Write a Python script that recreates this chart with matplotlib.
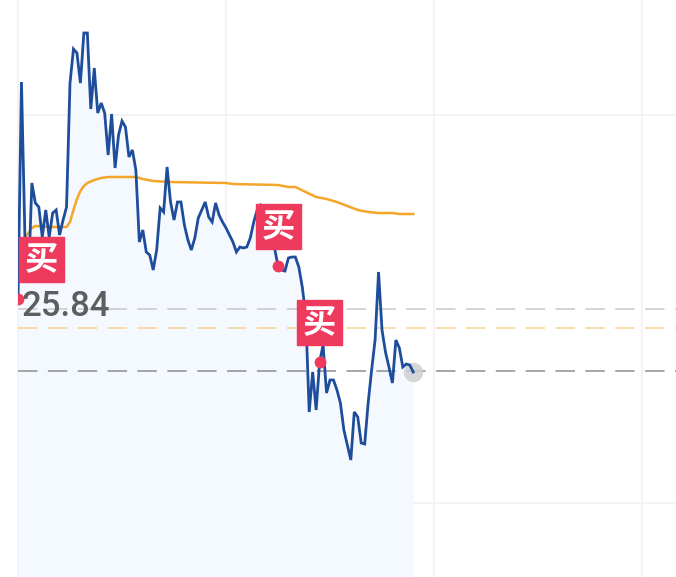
import matplotlib.pyplot as plt
from matplotlib import transforms
from matplotlib.patches import Rectangle

plt.rcParams['font.family'] = ['Noto Sans CJK SC', 'DejaVu Sans']
plt.rcParams['lines.scale_dashes'] = False

# intraday minute index (0 = 09:30) and last price
minutes = list(range(115))
price = [25.94, 28.11, 26.56, 26.10, 27.10, 26.90, 26.86, 26.56, 26.83, 26.56,
         26.80, 26.83, 26.58, 26.73, 26.86, 28.10, 28.44, 28.40, 28.10, 28.60,
         28.60, 27.84, 28.25, 27.80, 27.90, 27.80, 27.38, 27.79, 27.25, 27.58,
         27.72, 27.66, 27.36, 27.43, 27.23, 26.51, 26.63, 26.41, 26.38, 26.23,
         26.43, 26.85, 26.81, 27.26, 26.91, 26.73, 26.91, 26.91, 26.68, 26.53,
         26.43, 26.55, 26.75, 26.83, 26.91, 26.76, 26.71, 26.90, 26.78, 26.71,
         26.65, 26.58, 26.51, 26.41, 26.46, 26.45, 26.46, 26.55, 26.71, 26.83,
         26.88, 26.85, 26.78, 26.65, 26.45, 26.27, 26.23, 26.22, 26.35, 26.36,
         26.36, 26.26, 26.06, 25.78, 24.81, 25.21, 24.83, 25.31, 25.48, 25.00,
         25.13, 25.13, 25.03, 24.90, 24.63, 24.48, 24.33, 24.81, 24.76, 24.50,
         24.49, 24.90, 25.23, 25.53, 26.21, 25.63, 25.41, 25.26, 25.10, 25.53,
         25.45, 25.26, 25.29, 25.28, 25.21]

# average price line
avg_min = [1, 2, 3, 4, 5, 9, 14, 15, 16, 17, 18, 19, 20, 22, 24, 26, 34, 36,
           39, 44, 60, 62, 75, 78, 80, 83, 86, 89, 92, 95, 98, 101, 104, 108,
           110, 114]
avg_price = [26.43, 26.55, 26.60, 26.65, 26.67, 26.66, 26.66, 26.71, 26.83,
             26.94, 27.02, 27.07, 27.10, 27.13, 27.15, 27.16, 27.16, 27.14,
             27.12, 27.11, 27.10, 27.09, 27.08, 27.06, 27.06, 27.01, 26.96,
             26.94, 26.91, 26.87, 26.83, 26.81, 26.80, 26.80, 26.79, 26.79]

buy_min = [0, 75, 87]
buy_label = '买'
cost_price = 25.84
avg_cost = 25.65
last_price = 25.22

grid_min = [0, 60, 120, 180]
grid_price = [27.78, 23.90]
x_lo, x_hi = 0, 189.8
y_lo, y_hi = 23.16, 28.93

blue = '#1E4D9B'
orange = '#F5A52A'
red = '#EE3A5C'

fig = plt.figure(figsize=(6.76, 5.77), dpi=100)
ax = fig.add_axes([18 / 676, 0, 658 / 676, 1])
ax.set_xlim(x_lo, x_hi)
ax.set_ylim(y_lo, y_hi)
ax.axis('off')

for g in grid_min:
    ax.axvline(g, color='#F1F1F4', lw=1.2, zorder=0, clip_on=False)
for g in grid_price:
    ax.axhline(g, color='#F1F1F4', lw=1.2, zorder=0)

ax.fill_between(minutes, price, y_lo, color='#F4F8FF', lw=0, zorder=1)

dash = (0, (14, 7.5))
ax.axhline(cost_price, color='#C9C9C9', lw=1.1, ls=dash, zorder=2)
ax.axhline(avg_cost, color='#F6D396', lw=1.1, ls=dash, zorder=2)
ax.axhline(last_price, color='#8E8E8E', lw=1.1, ls=dash, zorder=2)

ax.plot(avg_min, avg_price, color=orange, lw=1.8, zorder=3)
ax.plot(minutes[-1], price[-1], 'o', ms=14, color='#CFCFCF', alpha=0.85,
        mec='none', zorder=3)
ax.plot(minutes, price, color=blue, lw=2.0, zorder=4, solid_joinstyle='miter')

lbl = transforms.offset_copy(ax.transData, fig, x=4, y=2, units='dots')
ax.text(0, cost_price, f'{cost_price:.2f}', transform=lbl, ha='left',
        va='center', fontsize=25, color='#5E5E5E', family='Roboto',
        weight='medium', zorder=5)

ident = transforms.IdentityTransform()
left_px = ax.transAxes.transform((0, 0))[0]
for m in buy_min:
    p = price[m]
    ax.plot(m, p, 'o', ms=8.5, color=red, mec='none', zorder=6)
    px, py = ax.transData.transform((m, p))
    cx = max(px, left_px + 1 + 22.5)
    cy = py + 40
    ax.add_patch(Rectangle((cx - 22.5, cy - 22.5), 45, 45, transform=ident,
                           color=red, zorder=7, clip_on=False))
    ax.text(cx, cy - 1, buy_label, transform=ident, ha='center', va='center',
            fontsize=24, color='white', weight='bold', zorder=8)

fig.savefig('out.png', dpi=100, facecolor='white')
